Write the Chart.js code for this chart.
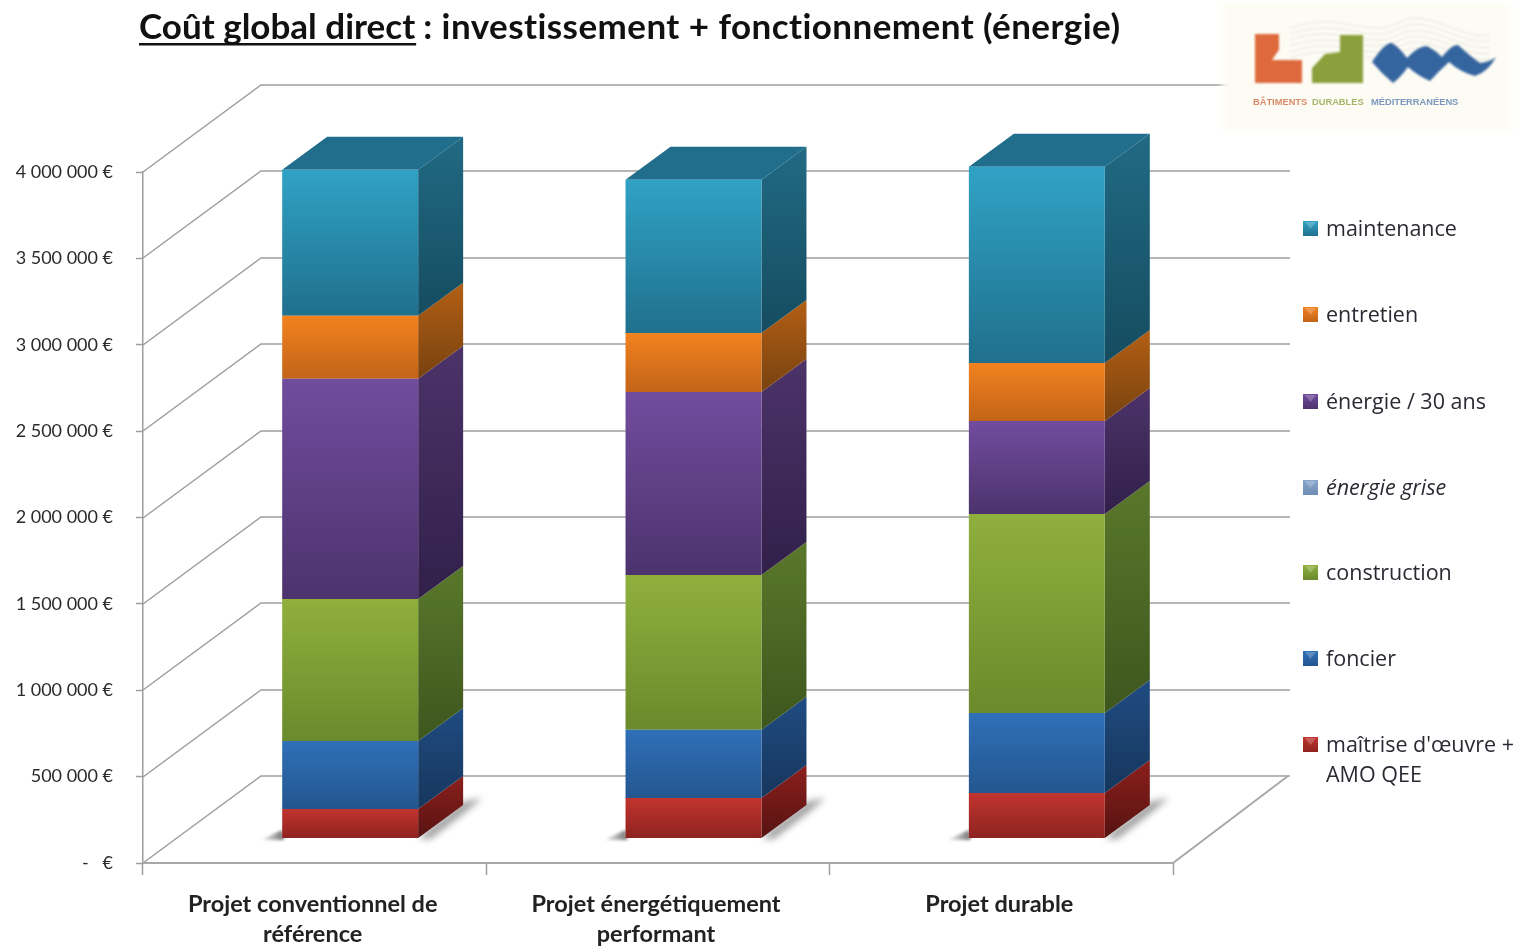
<!DOCTYPE html>
<html><head><meta charset="utf-8">
<style>html,body{margin:0;padding:0;background:#fff}#w{width:1519px;height:946px;position:relative}</style>
<script src="https://cdn.jsdelivr.net/npm/chart.js@4/dist/chart.umd.min.js"></script>
</head><body><div id="w"><canvas id="c" width="1519" height="946"></canvas></div>
<script>
const categories = [["Projet conventionnel de","référence"],["Projet énergétiquement","performant"],"Projet durable"];
const titleUnderlined = "Coût global direct";
const titleRest = ": investissement + fonctionnement (énergie)";
const maitrise = [168000, 232000, 261000];
const foncier = [394000, 394000, 463000];
const construction = [822000, 897000, 1152000];
const energieGrise = [0, 0, 0];
const energie30 = [1274000, 1059000, 538000];
const entretien = [365000, 342000, 336000];
const maintenance = [845000, 886000, 1135000];
const seriesLabels = ["maîtrise d'œuvre + AMO QEE","foncier","construction","énergie grise","énergie / 30 ans","entretien","maintenance"];
const seriesValues = [maitrise,foncier,construction,energieGrise,energie30,entretien,maintenance];
// front top, front bottom, side top, side bottom
const seriesColors = [
 ["#c2342f","#8e2320","#8c1f1c","#561312"],
 ["#2f70b8","#24568f","#204c82","#16365c"],
 ["#8fb03d","#6a8a2c","#5a782b","#3d561e"],
 ["#8aa6cc","#6f8cb2","#5f7a9c","#465c78"],
 ["#724c9e","#4c336d","#4c3369","#31204a"],
 ["#f2821f","#c26418","#b35f14","#784210"],
 ["#30a2c5","#20708d","#216a84","#154c60"]
];
const legendY = [744,658,572,487,401,314,228];
const BAR_SHIFT = 35.5, DEPTH_X = 45, DEPTH_Y = 33, WALL_X = 118, WALL_Y = 87, FLOOR_LIFT_EUR = 144718;
const GRID = "#9e9e9e";
const SANS = "Lato, sans-serif";

function grad(ctx,y0,y1,a,b){const g=ctx.createLinearGradient(0,y0,0,y1);g.addColorStop(0,a);g.addColorStop(1,b);return g;}

function frontFill(i){
  return function(c){
    if(c.dataIndex===undefined) return seriesColors[i][0];
    const s=c.chart.scales.yBars; if(!s) return seriesColors[i][0];
    let lo=0; for(let k=0;k<i;k++) lo+=seriesValues[k][c.dataIndex];
    const hi=lo+seriesValues[i][c.dataIndex];
    const p0=s.getPixelForValue(hi), p1=s.getPixelForValue(lo);
    if(!Number.isFinite(p0)||!Number.isFinite(p1)) return seriesColors[i][0];
    return grad(c.chart.ctx,p0,p1,seriesColors[i][0],seriesColors[i][1]);
  };
}

const scene = {
  id:"scene",
  beforeDatasetsDraw(chart){
    const {ctx,scales:{y}}=chart, a=chart.chartArea;
    ctx.save();
    ctx.strokeStyle=GRID; ctx.lineWidth=1.5;
    y.ticks.forEach(t=>{
      const p=Math.round(y.getPixelForValue(t.value));
      ctx.beginPath();ctx.moveTo(a.left,p);ctx.lineTo(a.left+WALL_X,p-WALL_Y);ctx.lineTo(1290,p-WALL_Y);ctx.stroke();
    });
    ctx.lineWidth=2;ctx.strokeStyle="#a8a8a8";
    ctx.beginPath();ctx.moveTo(a.left,a.bottom);ctx.lineTo(a.right,a.bottom);ctx.lineTo(a.right+WALL_X-3,a.bottom-WALL_Y);ctx.stroke();
    ctx.restore();

    // shadows on the floor
    const metas=chart.getSortedVisibleDatasetMetas();
    metas[0].data.forEach(b=>{
      const l=b.x-b.width/2+BAR_SHIFT, r=b.x+b.width/2+BAR_SHIFT, base=b.base;
      ctx.save();
      ctx.filter="blur(1.5px)";
      const g=ctx.createLinearGradient(l-22,0,l,0);
      g.addColorStop(0,"rgba(90,90,90,0)");g.addColorStop(1,"rgba(90,90,90,.8)");
      ctx.fillStyle=g;
      ctx.beginPath();ctx.moveTo(l-22,base+2);ctx.lineTo(l,base-8);ctx.lineTo(l+2,base+2);ctx.closePath();ctx.fill();
      ctx.filter="blur(3.5px)";ctx.fillStyle="rgba(90,90,90,.6)";
      ctx.beginPath();ctx.moveTo(r,base);ctx.lineTo(r+45,base-36);ctx.lineTo(r+64,base-40);ctx.lineTo(r+42,base-22);ctx.lineTo(r+12,base+1);ctx.closePath();ctx.fill();
      ctx.restore();
    });

    // shift the whole bar group on the floor, add side and top faces
    ctx.save();
    ctx.translate(BAR_SHIFT,0);
    metas.forEach((m,i)=>{
      m.data.forEach((b,j)=>{
        if(!seriesValues[i][j]) return;
        const r=b.x+b.width/2;
        ctx.fillStyle=grad(ctx,b.y-DEPTH_Y,b.base,seriesColors[i][2],seriesColors[i][3]);
        ctx.beginPath();ctx.moveTo(r,b.y);ctx.lineTo(r+DEPTH_X,b.y-DEPTH_Y);ctx.lineTo(r+DEPTH_X,b.base-DEPTH_Y);ctx.lineTo(r,b.base);ctx.closePath();ctx.fill();
        if(i===metas.length-1){
          const l=b.x-b.width/2;
          ctx.fillStyle="#206e8b";
          ctx.beginPath();ctx.moveTo(l,b.y);ctx.lineTo(l+DEPTH_X,b.y-DEPTH_Y);ctx.lineTo(r+DEPTH_X,b.y-DEPTH_Y);ctx.lineTo(r,b.y);ctx.closePath();ctx.fill();
        }
      });
    });
  },
  afterDatasetsDraw(chart){
    chart.ctx.restore();
  },
  afterDraw(chart){
    const ctx=chart.ctx;
    ctx.save();
    // title
    ctx.fillStyle="#111";ctx.textBaseline="alphabetic";ctx.textAlign="left";
    ctx.font="bold 35px "+SANS;
    const tx=139,ty=39;
    ctx.fillText(titleUnderlined,tx,ty);
    const w=ctx.measureText(titleUnderlined).width;
    ctx.fillRect(tx,ty+4,w+1,2.5);
    ctx.letterSpacing="0.44px";
    ctx.fillText(titleRest,tx+w+8,ty);
    ctx.letterSpacing="0px";
    // legend
    seriesLabels.forEach((lab,i)=>{
      const yy=legendY[i];
      ctx.fillStyle=grad(ctx,yy-7,yy+8,seriesColors[i][0],seriesColors[i][1]);
      ctx.fillRect(1303,yy-7,15,15);
      ctx.fillStyle="rgba(255,255,255,.22)";
      ctx.beginPath();ctx.moveTo(1305,yy-6);ctx.lineTo(1316,yy-6);ctx.lineTo(1310.5,yy+1);ctx.fill();
      ctx.fillStyle="#2a2a33";
      ctx.font=(lab==="énergie grise"?"italic ":"")+"21.5px 'Open Sans', sans-serif";
      ctx.textBaseline="middle";
      const parts=lab==="maîtrise d'œuvre + AMO QEE"?["maîtrise d'œuvre +","AMO QEE"]:[lab];
      parts.forEach((t,k)=>ctx.fillText(t,1326,yy+2+k*30));
    });
    drawLogo(ctx);
    ctx.restore();
  }
};

function drawLogo(ctx){
  ctx.save();
  ctx.fillStyle="#fdfcf4";ctx.filter="blur(3px)";ctx.fillRect(1222,3,290,128);
  ctx.filter="blur(.8px)";
  ctx.strokeStyle="rgba(190,190,190,.4)";ctx.lineWidth=1;
  for(let k=0;k<6;k++){
    ctx.beginPath();ctx.moveTo(1290,28+k*6);
    ctx.bezierCurveTo(1340,10+k*6,1370,40+k*6,1400,22+k*6);
    ctx.bezierCurveTo(1430,8+k*6,1460,40+k*6,1490,35+k*6);
    ctx.stroke();
  }
  ctx.fillStyle="#de6a3c";
  ctx.beginPath();
  [[1255,34],[1279,34],[1279,50],[1272,60],[1302,60],[1302,83],[1255,83]].forEach((p,i)=>i?ctx.lineTo(p[0],p[1]):ctx.moveTo(p[0],p[1]));
  ctx.fill();
  ctx.fillStyle="#8ba03c";
  ctx.beginPath();
  [[1340,35],[1363,35],[1363,83],[1312,83],[1312,68],[1325,54],[1340,52]].forEach((p,i)=>i?ctx.lineTo(p[0],p[1]):ctx.moveTo(p[0],p[1]));
  ctx.fill();
  ctx.fillStyle="#35659f";
  ctx.beginPath();ctx.moveTo(1372,62);
  ctx.quadraticCurveTo(1385,42,1392,43);
  ctx.quadraticCurveTo(1400,48,1407,58);
  ctx.quadraticCurveTo(1418,46,1427,46);
  ctx.quadraticCurveTo(1435,50,1442,57);
  ctx.quadraticCurveTo(1452,44,1458,45);
  ctx.quadraticCurveTo(1470,56,1480,63);
  ctx.quadraticCurveTo(1490,62,1496,57);
  ctx.quadraticCurveTo(1488,72,1475,76);
  ctx.quadraticCurveTo(1460,72,1449,62);
  ctx.quadraticCurveTo(1438,72,1430,81);
  ctx.quadraticCurveTo(1418,76,1408,67);
  ctx.quadraticCurveTo(1400,78,1393,83);
  ctx.quadraticCurveTo(1382,74,1372,62);
  ctx.fill();
  ctx.filter="blur(.4px)";
  ctx.font="bold 9.3px 'Liberation Sans', sans-serif";ctx.textBaseline="middle";ctx.textAlign="left";
  ctx.fillStyle="#d98a6a";ctx.fillText("BÂTIMENTS",1253,102);
  ctx.fillStyle="#a9b56d";ctx.fillText("DURABLES",1312,102);
  ctx.fillStyle="#7c98bd";ctx.fillText("MÉDITERRANÉENS",1371,102);
  ctx.restore();
}

new Chart(document.getElementById("c"),{
  type:"bar",
  data:{
    labels:categories,
    datasets:seriesLabels.map((label,i)=>({
      label,data:seriesValues[i],
      backgroundColor:frontFill(i),
      borderWidth:0,yAxisID:"yBars",clip:false,
      barPercentage:0.396,categoryPercentage:1
    }))
  },
  plugins:[scene],
  options:{
    responsive:false,animation:false,
    layout:{padding:{left:0,right:346,top:172,bottom:0}},
    plugins:{legend:{display:false},title:{display:false},tooltip:{enabled:false}},
    scales:{
      x:{
        stacked:true,
        afterFit(s){s.height=83;},
        border:{display:false},
        grid:{drawOnChartArea:false,tickLength:12,color:GRID,tickWidth:1.5,offset:true},
        ticks:{padding:14,labelOffset:-2,maxRotation:0,autoSkip:false,color:"#222",font:{family:"Lato",weight:"bold",size:23.5,lineHeight:1.28}}
      },
      y:{
        position:"left",min:0,max:4000000,
        afterFit(s){s.width=143;},
        border:{display:true,color:GRID,width:1.5},
        grid:{drawOnChartArea:false,tickLength:7,color:GRID,tickWidth:1.5},
        ticks:{
          stepSize:500000,padding:23,color:"#2a2a2a",font:{family:"Lato",size:18},
          callback:v=>v===0?"-   €":String(v).replace(/\B(?=(\d{3})+$)/g," ")+" €"
        }
      },
      yBars:{
        display:false,stacked:true,
        min:-FLOOR_LIFT_EUR,max:4000000-FLOOR_LIFT_EUR
      }
    }
  }
});
</script></body></html>
